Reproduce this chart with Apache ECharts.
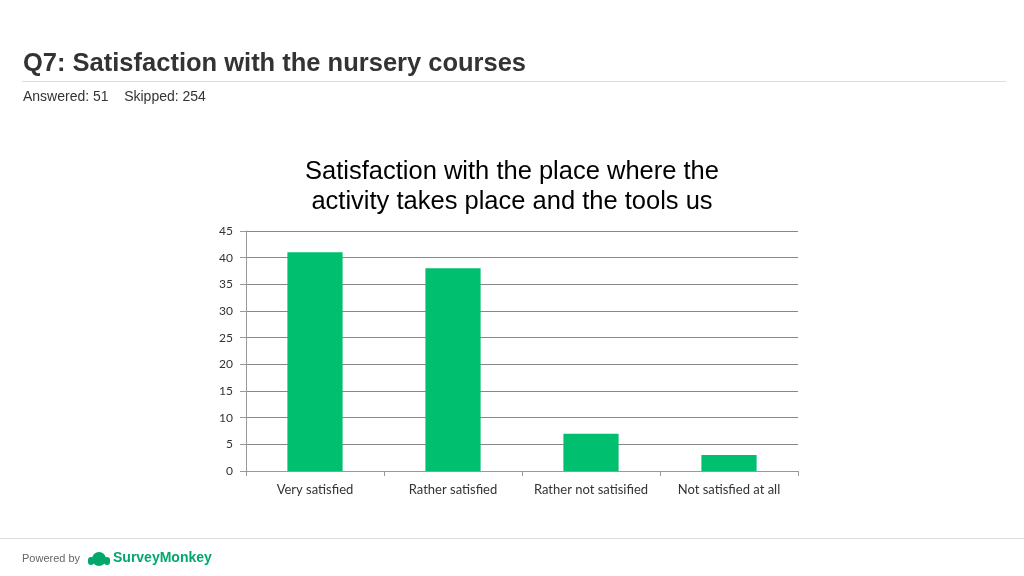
<!DOCTYPE html>
<html><head><meta charset="utf-8">
<script src="https://cdn.jsdelivr.net/npm/echarts@6/dist/echarts.min.js"></script>
<style>html,body{margin:0;padding:0;background:#fff}#c{width:1024px;height:576px}</style>
</head><body><div id="c"></div>
<script>
const categories = ["Very satisfied", "Rather satisfied", "Rather not satisified", "Not satisfied at all"];
const values = [41, 38, 7, 3];
const yTicks = { min: 0, max: 45, interval: 5 };

const chart = echarts.init(document.getElementById('c'), null, { renderer: 'canvas' });
chart.setOption({
  backgroundColor: '#fff',
  animation: false,
  title: {
    text: 'Satisfaction with the place where the\nactivity takes place and the tools us',
    left: 'center', top: 152,
    textStyle: { fontFamily: 'Liberation Sans', fontSize: 25.5, fontWeight: 'normal', color: '#000', lineHeight: 30 }
  },
  graphic: [
    { type: 'text', left: 23, top: 51, style: { text: 'Q7: Satisfaction with the nursery courses', font: 'bold 25.5px "Liberation Sans"', fill: '#333' } },
    { type: 'line', shape: { x1: 22, y1: 81.5, x2: 1006, y2: 81.5 }, style: { stroke: '#ddd', lineWidth: 1 } },
    { type: 'text', left: 23, top: 90, style: { text: 'Answered: 51    Skipped: 254', font: '14px "Liberation Sans"', fill: '#333' } },
    { type: 'line', shape: { x1: 0, y1: 538.5, x2: 1024, y2: 538.5 }, style: { stroke: '#ddd', lineWidth: 1 } },
    { type: 'text', left: 22, top: 553, style: { text: 'Powered by', font: '11px "Liberation Sans"', fill: '#666' } },
    { type: 'circle', shape: { cx: 99, cy: 559, r: 7, startAngle: Math.PI, endAngle: 0, clockwise: true }, style: { fill: '#00a86b' } },
    { type: 'rect', shape: { x: 88, y: 557, width: 6, height: 8, r: 3 }, style: { fill: '#00a86b' } },
    { type: 'rect', shape: { x: 104, y: 557, width: 6, height: 8, r: 3 }, style: { fill: '#00a86b' } },
    { type: 'text', left: 113, top: 551, style: { text: 'SurveyMonkey', font: 'bold 14px "Liberation Sans"', fill: '#00a86b' } },
    { type: 'text', left: 205, top: 553, style: { text: '·', font: '10px "Liberation Sans"', fill: '#00a86b' } }
  ],
  grid: { left: 246, right: 226, top: 231, bottom: 105, containLabel: false },
  xAxis: {
    type: 'category', data: categories,
    axisLine: { lineStyle: { color: '#999', width: 1 } },
    axisTick: { show: true, interval: 0, alignWithLabel: false, length: 5, lineStyle: { color: '#999' } },
    axisLabel: { interval: 0, color: '#333', fontFamily: 'Lato', fontSize: 13, margin: 12 }
  },
  yAxis: {
    type: 'value', min: yTicks.min, max: yTicks.max, interval: yTicks.interval,
    axisLine: { show: true, lineStyle: { color: '#999', width: 1 } },
    axisTick: { show: true, length: 6, lineStyle: { color: '#999' } },
    axisLabel: { color: '#333', fontFamily: 'Lato', fontSize: 12, margin: 13 },
    splitLine: { lineStyle: { color: '#888', width: 1 } }
  },
  series: [{
    type: 'bar', data: values, barWidth: '40%',
    itemStyle: { color: '#00bf6f' }
  }]
});
</script></body></html>
